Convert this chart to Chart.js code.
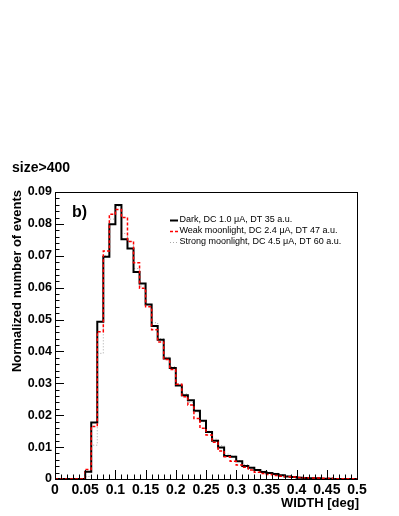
<!DOCTYPE html>
<html>
<head>
<meta charset="utf-8">
<script src="https://cdn.jsdelivr.net/npm/chart.js@4"></script>
<style>
  body { margin: 0; background: #fff; }
</style>
</head>
<body>
<canvas id="myChart" width="399" height="516"></canvas>
<script>
// lower edge of each WIDTH bin [deg], bins are 0.01 wide
const binEdges = [0, 0.01, 0.02, 0.03, 0.04, 0.05, 0.06, 0.07, 0.08, 0.09,
  0.10, 0.11, 0.12, 0.13, 0.14, 0.15, 0.16, 0.17, 0.18, 0.19,
  0.20, 0.21, 0.22, 0.23, 0.24, 0.25, 0.26, 0.27, 0.28, 0.29,
  0.30, 0.31, 0.32, 0.33, 0.34, 0.35, 0.36, 0.37, 0.38, 0.39,
  0.40, 0.41, 0.42, 0.43, 0.44, 0.45, 0.46, 0.47, 0.48, 0.49]
const histEnd = 0.5

const darkValues = [0, 0, 0, 0, 0, 0.0023, 0.0177, 0.0493, 0.0697, 0.0799,
  0.0859, 0.0752, 0.0723, 0.0649, 0.0613, 0.0547, 0.0480, 0.0437, 0.0378, 0.0348,
  0.0293, 0.0263, 0.0247, 0.0214, 0.0183, 0.0147, 0.0120, 0.0099, 0.0072, 0.0070,
  0.0056, 0.0041, 0.0035, 0.0028, 0.0022, 0.0019, 0.0016, 0.0012, 0.0008, 0.0006,
  0.0004, 0.0003, 0.0002, 0.0002, 0.0001, 0.0001, 0, 0, 0, 0]

const weakValues = [0, 0, 0, 0, 0, 0.0030, 0.0165, 0.0462, 0.0715, 0.0830,
  0.0845, 0.0820, 0.0745, 0.0678, 0.0598, 0.0540, 0.0468, 0.0430, 0.0375, 0.0343,
  0.0297, 0.0258, 0.0232, 0.0190, 0.0159, 0.0138, 0.0115, 0.0088, 0.0070, 0.0056,
  0.0044, 0.0037, 0.0028, 0.0021, 0.0017, 0.0014, 0.0011, 0.0009, 0.0007, 0.0006,
  0.0005, 0.0004, 0.0003, 0.0003, 0.0002, 0.0002, 0.0001, 0.0001, 0.0001, 0.0001]

const strongValues = [0, 0, 0, 0, 0, 0.0008, 0.0106, 0.0394, 0.0700, 0.0815,
  0.0855, 0.0770, 0.0745, 0.0660, 0.0605, 0.0548, 0.0490, 0.0440, 0.0382, 0.0352,
  0.0298, 0.0267, 0.0240, 0.0210, 0.0180, 0.0150, 0.0125, 0.0105, 0.0078, 0.0072,
  0.0058, 0.0045, 0.0037, 0.0030, 0.0025, 0.0021, 0.0018, 0.0014, 0.0011, 0.0008,
  0.0006, 0.0005, 0.0004, 0.0003, 0.0002, 0.0002, 0.0001, 0.0001, 0.0001, 0]

const seriesLabels = [
  "Dark, DC 1.0 \u03bcA, DT 35 a.u.",
  "Weak moonlight, DC 2.4 \u03bcA, DT 47 a.u.",
  "Strong moonlight, DC 4.5 \u03bcA, DT 60 a.u."
]

const FONT = "'Liberation Sans', Arial, Helvetica, sans-serif"

// histogram -> step points (left edges + closing point)
function toSteps(values) {
  let pts = binEdges.map((x, i) => ({x: x, y: values[i]}))
  pts.push({x: histEnd, y: values[values.length - 1]})
  return pts
}

function fmt(v) {
  return parseFloat(v.toFixed(3)).toString()
}

// ROOT-ish frame, inside ticks, titles and legend
const rootDecor = {
  id: 'rootDecor',
  afterDatasetsDraw(chart) {
    const ctx = chart.ctx
    const a = chart.chartArea
    const xs = chart.scales.x
    const ys = chart.scales.y
    ctx.save()
    ctx.strokeStyle = '#000'
    ctx.lineWidth = 1
    ctx.setLineDash([])

    ctx.beginPath()
    // y ticks, every 0.002, major every 0.01
    for (let i = 0; i <= 45; i++) {
      let py = Math.round(ys.getPixelForValue(i * 0.002)) + 0.5
      let len = (i % 5 == 0) ? 9 : 4.5
      ctx.moveTo(a.left, py)
      ctx.lineTo(a.left + len, py)
    }
    // x ticks, every 0.01, major every 0.05
    for (let i = 0; i <= 50; i++) {
      let px = Math.round(xs.getPixelForValue(i * 0.01)) + 0.5
      let len = (i % 5 == 0) ? 9 : 4.5
      ctx.moveTo(px, a.bottom)
      ctx.lineTo(px, a.bottom - len)
    }
    ctx.stroke()

    ctx.strokeRect(Math.round(a.left) + 0.5, Math.round(a.top) + 0.5,
      Math.round(a.right - a.left), Math.round(a.bottom - a.top))

    ctx.fillStyle = '#000'
    // pad title
    ctx.font = 'bold 14px ' + FONT
    ctx.textAlign = 'left'
    ctx.textBaseline = 'middle'
    ctx.fillText('size>400', 12, 168)

    // panel tag
    ctx.font = 'bold 16px ' + FONT
    ctx.fillText('b)', 72, 213)

    // x title
    ctx.font = 'bold 13px ' + FONT
    ctx.textAlign = 'right'
    ctx.fillText('WIDTH [deg]', a.right + 2, 503)

    // y title, aligned to top of axis
    ctx.save()
    ctx.translate(17, a.top - 2)
    ctx.rotate(-Math.PI / 2)
    ctx.textAlign = 'right'
    ctx.fillText('Normalized number of events', 0, 0)
    ctx.restore()

    // legend
    ctx.font = '9px ' + FONT
    ctx.textAlign = 'left'
    const rows = [220, 231, 242]
    chart.data.datasets.forEach((ds, i) => {
      let y = rows[i] + 0.5
      ctx.strokeStyle = ds.borderColor
      ctx.lineWidth = ds.borderWidth
      ctx.setLineDash(ds.borderDash || [])
      ctx.beginPath()
      ctx.moveTo(170, y)
      ctx.lineTo(178, y)
      ctx.stroke()
      ctx.fillText(ds.label, 179.5, rows[i])
    })
    ctx.restore()
  }
}

function updateGraph() {
  var ctx = document.getElementById('myChart').getContext('2d')
  var chart = new Chart(ctx, {
    type: 'line',
    data: {
      datasets: [{
        label: seriesLabels[0],
        data: toSteps(darkValues),
        borderColor: '#000000',
        borderWidth: 2,
        stepped: 'before',
        pointRadius: 0,
        fill: false,
        order: 2
      }, {
        label: seriesLabels[1],
        data: toSteps(weakValues),
        borderColor: '#ff0000',
        borderWidth: 1.5,
        borderDash: [3, 2],
        stepped: 'before',
        pointRadius: 0,
        fill: false,
        order: 1
      }, {
        label: seriesLabels[2],
        data: toSteps(strongValues),
        borderColor: '#a8a8a8',
        borderWidth: 1,
        borderDash: [1, 2],
        stepped: 'before',
        pointRadius: 0,
        fill: false,
        order: 3
      }]
    },
    options: {
      responsive: false,
      animation: false,
      devicePixelRatio: 1,
      layout: {padding: {left: 0, top: 192, right: 42, bottom: 0}},
      plugins: {legend: {display: false}, tooltip: {enabled: false}},
      scales: {
        x: {
          type: 'linear',
          min: 0,
          max: 0.5,
          grid: {display: false, drawTicks: false},
          border: {display: false},
          afterFit: s => { s.height = 37 },
          ticks: {
            stepSize: 0.05,
            padding: 3,
            maxRotation: 0,
            autoSkip: false,
            color: '#000',
            font: {family: FONT, size: 14, weight: 'bold'},
            callback: v => fmt(v)
          }
        },
        y: {
          min: 0,
          max: 0.09,
          grid: {display: false, drawTicks: false},
          border: {display: false},
          afterFit: s => { s.width = 55 },
          ticks: {
            stepSize: 0.01,
            padding: 3,
            autoSkip: false,
            color: '#000',
            font: {family: FONT, size: 12.5, weight: 'bold'},
            callback: v => fmt(v)
          }
        }
      }
    },
    plugins: [rootDecor]
  })
}

updateGraph()
</script>
</body>
</html>
